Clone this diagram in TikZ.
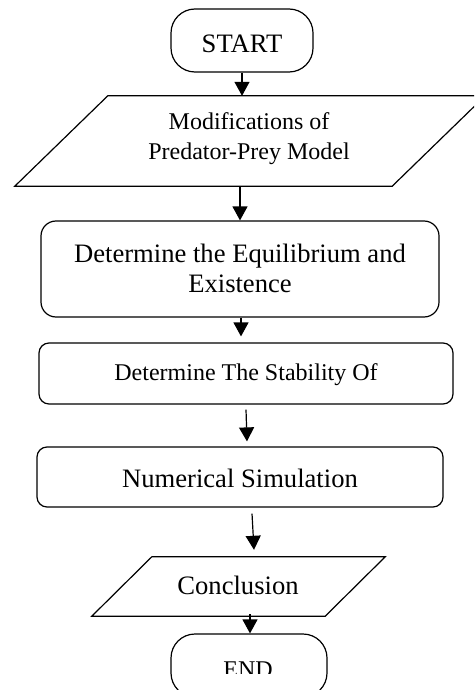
\documentclass[tikz,border=0pt]{standalone}
\usepackage{fontspec}
\setmainfont{Liberation Serif}
\usetikzlibrary{arrows.meta}
\tikzset{
  shapebox/.style={draw, line width=1.2pt, inner sep=0pt},
  frame/.style={draw=none, inner sep=0pt},
  txt/.style={anchor=base, inner sep=0pt, align=center},
  big/.style={font=\fontsize{26.6}{30}\selectfont},
  small/.style={font=\fontsize{24}{30}\selectfont},
  flow/.style={line width=1.2pt, -{Triangle[length=14pt,width=15pt]}}
}
\begin{document}
\begin{tikzpicture}[x=1pt,y=-1pt]
\clip (0,0) rectangle (474,690);
\fill[white] (0,0) rectangle (474,690);

% START
\node[shapebox, rounded corners=24pt, minimum width=142pt, minimum height=63pt] (start) at (242,40.5) {};
\node[txt, big] (starttxt) at (242,53) {START};

% Parallelogram 1
\node[frame, minimum width=470pt, minimum height=90pt] (mod) at (250,141) {};
\draw[line width=1.2pt] ([xshift=93pt]mod.north west) -- (mod.north east)
  -- ([xshift=-93pt]mod.south east) -- (mod.south west) -- cycle;
\node[txt, small] (modtxt1) at (249,129) {Modifications of};
\node[txt, small] (modtxt2) at (249,159) {Predator-Prey Model};

% Equilibrium box
\node[shapebox, rounded corners=15pt, minimum width=398pt, minimum height=96pt] (eq) at (240,269) {};
\node[txt, big] (eqtxt1) at (240,262) {Determine the Equilibrium and};
\node[txt, big] (eqtxt2) at (240,292) {Existence};

% Stability box
\node[shapebox, rounded corners=10pt, minimum width=414pt, minimum height=61pt] (stab) at (246,373.5) {};
\node[txt, small] (stabtxt) at (246,380) {Determine The Stability Of};

% Numerical simulation box
\node[shapebox, rounded corners=10pt, minimum width=406pt, minimum height=60pt] (num) at (240,477) {};
\node[txt, big] (numtxt) at (240,487) {Numerical Simulation};

% Parallelogram 2
\node[frame, minimum width=293pt, minimum height=59pt] (conc) at (238.5,586.5) {};
\draw[line width=1.2pt] ([xshift=60pt]conc.north west) -- (conc.north east)
  -- ([xshift=-60pt]conc.south east) -- (conc.south west) -- cycle;
\node[txt, big] (conctxt) at (238,594) {Conclusion};

% END
\node[shapebox, rounded corners=24pt, minimum width=156pt, minimum height=63pt] (end) at (249,665.5) {};
\begin{scope}
\clip (0,0) rectangle (474,673);
\node[txt, small] (endtxt) at (248,677) {END};
\end{scope}

% Connectors
\draw[flow] (start.south) -- (start.south |- mod.north);
\draw[flow] (mod.south -| eq.north) -- (eq.north);
\draw[flow] ([xshift=1pt]eq.south) -- ([xshift=1pt,yshift=6pt]eq.south |- stab.north);
\draw[flow] ([yshift=-5pt]stab.south) -- ([xshift=1pt,yshift=5pt]stab.south |- num.north);
\draw[flow] ([xshift=12pt,yshift=-6pt]num.south) -- ([xshift=14pt,yshift=7pt]num.south |- conc.north);
\draw[flow] ([xshift=1pt,yshift=2pt]end.north |- conc.south) -- ([xshift=1pt]end.north);
\end{tikzpicture}
\end{document}
